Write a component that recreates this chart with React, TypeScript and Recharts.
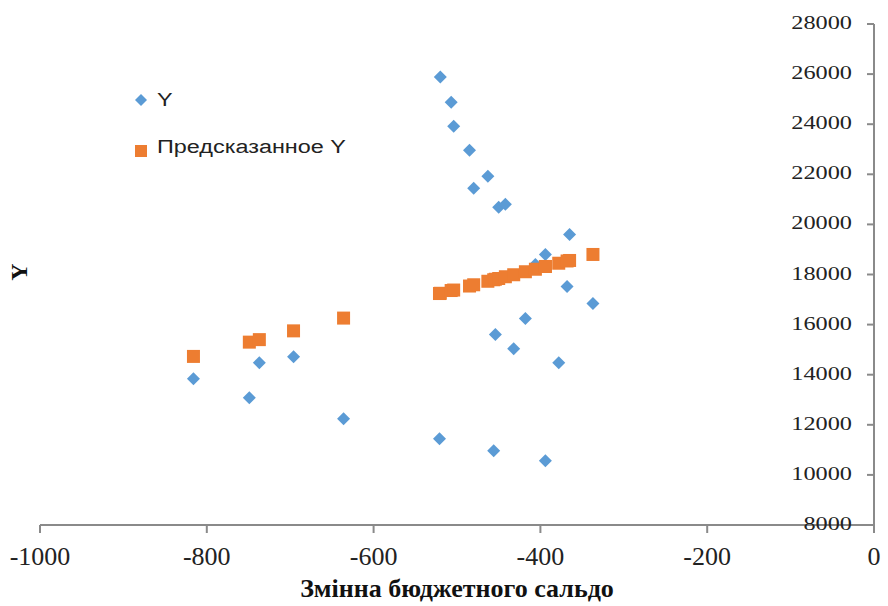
import React from "react";
import { ScatterChart, Scatter, XAxis, YAxis, Legend, ReferenceLine } from "recharts";

// Змінна бюджетного сальдо (x)
const saldo = [
  -816, -749, -737, -696, -636, -521, -520, -507, -504, -485, -480, -463, -456,
  -454, -450, -442, -432, -418, -406, -394, -394, -378, -368, -365, -337,
];

// actual Y
const yActual = [
  13840, 13080, 14480, 14720, 12240, 11440, 25880, 24880, 23920, 22960, 21440,
  21920, 10960, 15600, 20680, 20800, 15040, 16240, 18400, 18800, 10560, 14480,
  17520, 19600, 16840,
];

// Предсказанное Y (regression line values as read)
const yPredicted = [
  14730, 15300, 15400, 15750, 16260, 17240, 17250, 17360, 17380, 17540, 17590,
  17730, 17790, 17810, 17840, 17910, 17990, 18110, 18210, 18320, 18320, 18450,
  18540, 18560, 18800,
];

const xTicks = [-1000, -800, -600, -400, -200, 0];
const yTicks = [8000, 10000, 12000, 14000, 16000, 18000, 20000, 22000, 24000, 26000, 28000];

const BLUE = "#5B9BD5";
const ORANGE = "#ED7D31";
const AXIS = "#8a8a8a";
const SERIF = "'Liberation Serif', 'Times New Roman', serif";

const actualData = saldo.map((x, i) => ({ x, y: yActual[i] }));
const predictedData = saldo.map((x, i) => ({ x, y: yPredicted[i] }));

const Diamond = (p: any) => {
  const { cx, cy } = p;
  const r = 6.5;
  return (
    <polygon
      points={`${cx},${cy - r} ${cx + r},${cy} ${cx},${cy + r} ${cx - r},${cy}`}
      fill={BLUE}
    />
  );
};

const Square = (p: any) => {
  const { cx, cy } = p;
  const s = 13;
  return <rect x={cx - s / 2} y={cy - s / 2} width={s} height={s} fill={ORANGE} />;
};

const XTick = (p: any) => {
  const { x, y, payload } = p;
  return (
    <text x={x} y={y + 30} textAnchor="middle" fontSize={26} fontFamily={SERIF} fill="#222">
      {payload.value}
    </text>
  );
};

// y axis sits at x = 0 on the right, but its ticks and labels point inward
const YTick = (p: any) => {
  const { x, y, payload } = p;
  return (
    <g>
      <line x1={x - 7} x2={x} y1={y} y2={y} stroke={AXIS} strokeWidth={2} />
      <text
        transform={`translate(${x - 22},${y + 5}) scale(1.35,1)`}
        textAnchor="end"
        fontSize={18}
        fontFamily={SERIF}
        fill="#222"
      >
        {payload.value}
      </text>
    </g>
  );
};

const LegendBox = () => {
  const text: React.CSSProperties = {
    position: "absolute",
    left: 23,
    fontFamily: "'Liberation Sans', Arial, sans-serif",
    fontSize: 18,
    color: "#222",
    whiteSpace: "nowrap",
    transform: "scaleX(1.3)",
    transformOrigin: "left center",
    lineHeight: "20px",
  };
  return (
    <div style={{ position: "relative", width: 300, height: 80 }}>
      <svg width={20} height={80} style={{ position: "absolute", left: 0, top: 0 }}>
        <polygon points="7,6 13,12 7,18 1,12" fill={BLUE} />
        <rect x={1} y={57} width={12} height={12} fill={ORANGE} />
      </svg>
      <span style={{ ...text, top: 2 }}>Y</span>
      <span style={{ ...text, top: 49 }}>Предсказанное Y</span>
    </div>
  );
};

export default function App() {
  return (
    <div style={{ position: "absolute", left: 0, top: 0, width: 888, height: 606, background: "#fff" }}>
      <ScatterChart width={888} height={606} margin={{ top: 24, right: 13, bottom: 0, left: 40 }}>
        <XAxis
          type="number"
          dataKey="x"
          domain={[-1000, 0]}
          ticks={xTicks}
          height={81}
          tickSize={8}
          stroke={AXIS}
          strokeWidth={2}
          tick={<XTick />}
          label={{
            value: "Змінна бюджетного сальдо",
            position: "insideBottom",
            offset: 9,
            style: { fontFamily: SERIF, fontWeight: 700, fontSize: 26, fill: "#111" },
          }}
        />
        <YAxis
          type="number"
          dataKey="y"
          orientation="right"
          width={1}
          domain={[8000, 28000]}
          ticks={yTicks}
          tickLine={false}
          tickSize={0}
          tickMargin={0}
          axisLine={false}
          tick={<YTick />}
        />
        {/* the value axis line, drawn at x = 0 */}
        <ReferenceLine x={0} stroke={AXIS} strokeWidth={2} ifOverflow="visible" />
        <Legend
          layout="vertical"
          align="center"
          verticalAlign="middle"
          content={<LegendBox />}
          wrapperStyle={{ left: 134, top: 88, width: 300, height: 80 }}
        />
        <Scatter name="Y" data={actualData} shape={Diamond} isAnimationActive={false} />
        <Scatter name="Предсказанное Y" data={predictedData} shape={Square} isAnimationActive={false} />
      </ScatterChart>
      <div
        style={{
          position: "absolute",
          left: 7,
          top: 260,
          width: 24,
          height: 24,
          fontFamily: SERIF,
          fontWeight: 700,
          fontSize: 24,
          lineHeight: "24px",
          textAlign: "center",
          transform: "rotate(-90deg)",
          color: "#111",
        }}
      >
        Y
      </div>
    </div>
  );
}
